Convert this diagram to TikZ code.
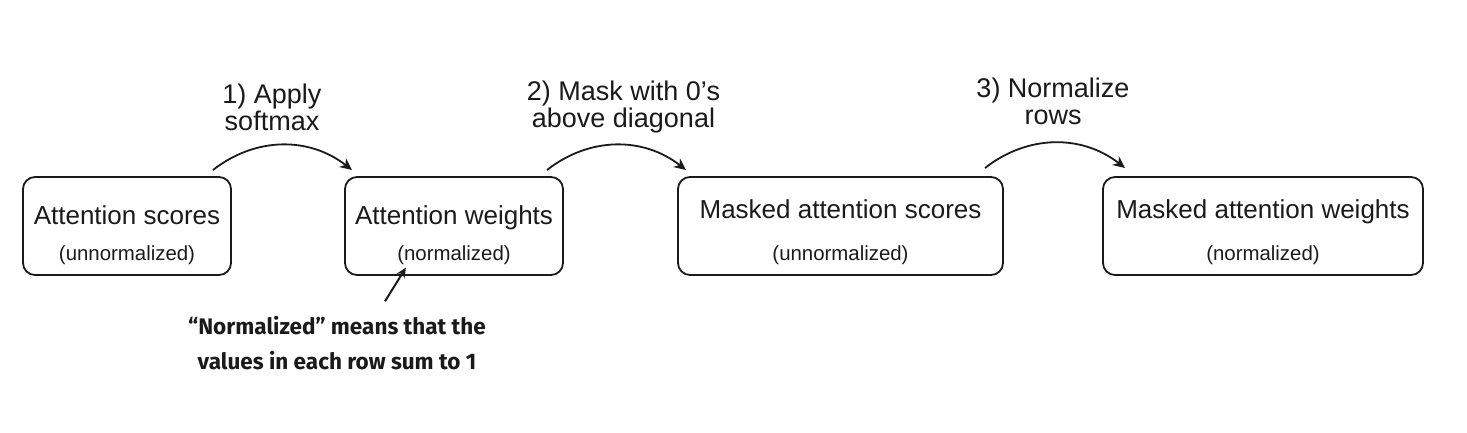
\documentclass[tikz,border=0pt]{standalone}
\usepackage{fontspec}
\setmainfont{Liberation Sans}
\newfontfamily\notefont{Fira Sans}
\usepackage{tikz}
\usetikzlibrary{positioning, arrows.meta}
\definecolor{cInk}{HTML}{1A1A1A}

\tikzset{
  stage/.style={draw=cInk, line width=0.9pt, rounded corners=6pt, inner sep=0pt, outer sep=0pt,
    font=\fontsize{13}{15}\selectfont, text=cInk, text height=23.5pt, text depth=25.5pt},
  stagewide/.style={stage, text height=20.5pt, text depth=28.5pt},
  stagenote/.style={font=\fontsize{10.2}{12}\selectfont, text=cInk, anchor=base, inner sep=0pt},
  steplabel/.style={font=\fontsize{13.5}{13.5}\selectfont, align=center, text=cInk},
  flow/.style={draw=cInk, line width=0.9pt, -{Stealth[length=6pt, width=5.5pt]}},
  pointer/.style={draw=cInk, line width=1pt, -{Stealth[length=5pt, width=4.5pt]}},
}

\begin{document}
\begin{tikzpicture}
        \useasboundingbox (0,0) rectangle (733.5pt,-216.5pt);
        % stage boxes, left to right
        \node[stage, minimum width=104pt] (scores) at (63.5pt,-113pt) {Attention scores};
        \node[stage, minimum width=109pt, right=57pt of scores] (weights) {Attention weights};
        \node[stagewide, minimum width=162.5pt, right=57.5pt of weights] (mscores) {Masked attention scores};
        \node[stagewide, minimum width=160pt, right=50pt of mscores] (mweights) {Masked attention weights};
        % second line in each box
        \node[stagenote] (scores-sub) at ([yshift=7.5pt]scores.south) {(unnormalized)};
        \node[stagenote] (weights-sub) at ([yshift=7.5pt]weights.south) {(normalized)};
        \node[stagenote] (mscores-sub) at ([yshift=7.5pt]mscores.south) {(unnormalized)};
        \node[stagenote] (mweights-sub) at ([yshift=7.5pt]mweights.south) {(normalized)};
        % step arrows and their labels
        \draw[flow] ([shift={(-9pt,3.5pt)}]scores.north east) to[bend left=38]
            ([shift={(3.5pt,3.5pt)}]weights.north west);
        \draw[flow] ([shift={(-8pt,3.5pt)}]weights.north east) to[bend left=38]
            ([shift={(4pt,3.5pt)}]mscores.north west);
        \draw[flow] ([shift={(-9pt,4.5pt)}]mscores.north east) to[bend left=38]
            ([shift={(11pt,4.5pt)}]mweights.north west);
        \node[steplabel] (apply) at (136pt,-53.75pt) {1) Apply\\softmax};
        \node[steplabel] (mask) at (311.75pt,-53.75pt) {2) Mask with 0's\\above diagonal};
        \node[steplabel] (renorm) at (526.5pt,-50.75pt) {3) Normalize\\rows};
        % annotation under the weights
        \node[font=\notefont\bfseries\fontsize{11.25}{17.5}\selectfont, text=cInk, align=center, inner sep=0pt]
            (note) at (168.5pt,-171.75pt) {“Normalized” means that the\\values in each row sum to 1};
        \draw[pointer] ([shift={(24pt,7.5pt)}]note.north) -- ([shift={(4.5pt,-1.5pt)}]weights-sub.south west);
      \end{tikzpicture}
\end{document}
